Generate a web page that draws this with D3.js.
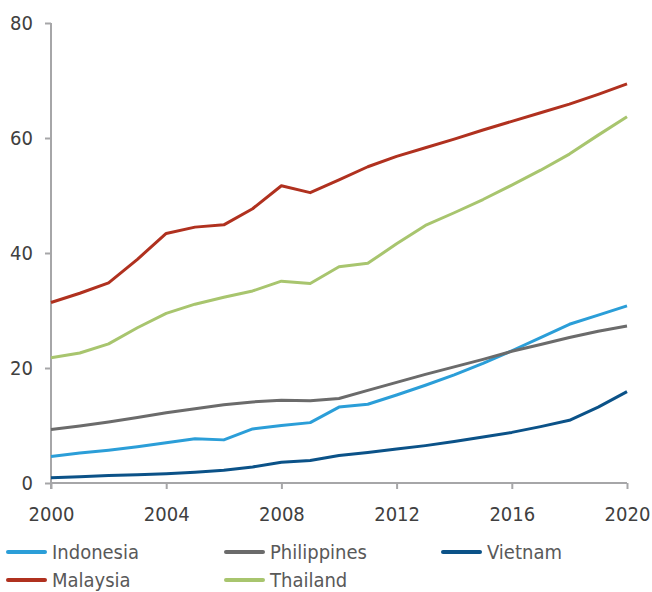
<!DOCTYPE html>
<meta charset="utf-8">
<title>Line chart</title>
<style>
  body { margin: 0; background: #fff; }
  text { font-family: "DejaVu Sans Condensed", "DejaVu Sans", sans-serif; font-stretch: condensed; }
</style>
<body>
<script src="https://cdn.jsdelivr.net/npm/d3@7"></script>
<script>

var years = d3.range(2000, 2021);

var indonesia   = [4.6, 5.2, 5.7, 6.3, 7.0, 7.7, 7.5, 9.4, 10.0, 10.5, 13.2, 13.7, 15.3, 17.0, 18.8, 20.8, 23.0, 25.3, 27.6, 29.2, 30.8];
var philippines = [9.3, 9.9, 10.6, 11.4, 12.2, 12.9, 13.6, 14.1, 14.4, 14.3, 14.7, 16.1, 17.5, 18.9, 20.2, 21.5, 22.9, 24.1, 25.3, 26.4, 27.3];
var vietnam     = [0.9, 1.1, 1.3, 1.45, 1.6, 1.85, 2.2, 2.8, 3.6, 3.9, 4.8, 5.3, 5.9, 6.5, 7.2, 8.0, 8.8, 9.8, 10.9, 13.2, 15.9];
var malaysia    = [31.4, 33.0, 34.8, 38.9, 43.4, 44.5, 44.9, 47.7, 51.7, 50.5, 52.7, 55.0, 56.8, 58.3, 59.8, 61.4, 62.9, 64.4, 65.9, 67.6, 69.4];
var thailand    = [21.8, 22.6, 24.2, 27.0, 29.5, 31.1, 32.3, 33.4, 35.1, 34.7, 37.6, 38.2, 41.6, 44.8, 47.0, 49.3, 51.8, 54.4, 57.2, 60.5, 63.7];

var yTicks = [0, 20, 40, 60, 80];
var xTicks = [2000, 2004, 2008, 2012, 2016, 2020];

var series = [
  { name: "Indonesia",   values: indonesia,   color: "#2b9ed8" },
  { name: "Philippines", values: philippines, color: "#6b6b6b" },
  { name: "Vietnam",     values: vietnam,     color: "#0b5288" },
  { name: "Malaysia",    values: malaysia,    color: "#b0311f" },
  { name: "Thailand",    values: thailand,    color: "#a8c56e" }
];

var width = 652, height = 592;
var margin = { left: 51, right: 25, top: 23, bottom: 109 };

var svg = d3.select("body").append("svg")
  .attr("width", width)
  .attr("height", height);

var x = d3.scaleLinear()
  .domain([2000, 2020])
  .range([margin.left, width - margin.right]);

var y = d3.scaleLinear()
  .domain([0, 80])
  .range([height - margin.bottom, margin.top]);

// axes
var xAxis = svg.append("g")
  .attr("transform", "translate(0," + y(0) + ")")
  .call(d3.axisBottom(x).tickValues(xTicks).tickFormat(d3.format("d")).tickSize(6).tickPadding(18));

var yAxis = svg.append("g")
  .attr("transform", "translate(" + x(2000) + ",0)")
  .call(d3.axisLeft(y).tickValues(yTicks).tickSize(6).tickPadding(12));

[xAxis, yAxis].forEach(function (g) {
  g.select(".domain").attr("stroke", "#a6a6a8").attr("stroke-width", 2);
  g.selectAll(".tick line").attr("stroke", "#a6a6a8").attr("stroke-width", 2);
  g.selectAll(".tick text").attr("fill", "#404040").style("font-size", "20px");
});
xAxis.select(".domain").attr("d", "M" + x(2000) + ",0H" + x(2020));
yAxis.select(".domain").attr("d", "M0," + y(80) + "V" + (y(0) + 6));

// lines
var line = d3.line()
  .x(function (d, i) { return x(years[i]); })
  .y(function (d) { return y(d); });

svg.selectAll("path.series")
  .data(series)
  .enter().append("path")
  .attr("class", "series")
  .attr("fill", "none")
  .attr("stroke", function (d) { return d.color; })
  .attr("stroke-width", 3)
  .attr("stroke-linejoin", "round")
  .attr("d", function (d) { return line(d.values); });

// legend
var legendCols = [8, 226, 443];
var legend = svg.selectAll("g.legend")
  .data(series)
  .enter().append("g")
  .attr("class", "legend")
  .attr("transform", function (d, i) {
    return "translate(" + legendCols[i % 3] + "," + (552 + Math.floor(i / 3) * 28) + ")";
  });

legend.append("line")
  .attr("x1", 0).attr("x2", 37)
  .attr("stroke", function (d) { return d.color; })
  .attr("stroke-width", 4)
  .attr("stroke-linecap", "round");

legend.append("text")
  .attr("x", 44)
  .attr("y", 7)
  .attr("fill", "#595959")
  .style("font-size", "20px")
  .text(function (d) { return d.name; });

</script>
</body>
</html>
